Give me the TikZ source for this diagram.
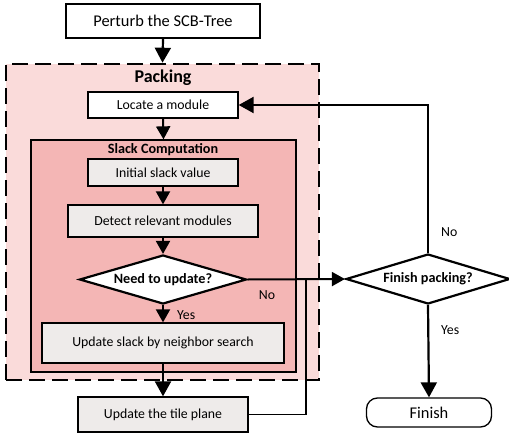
\documentclass[tikz,border=0pt]{standalone}
\usepackage{fontspec}
\setmainfont{Carlito}
\usetikzlibrary{shapes.geometric,arrows.meta}
\definecolor{packfill}{HTML}{FADBDA}
\definecolor{slackfill}{HTML}{F4B6B5}
\definecolor{greyfill}{HTML}{EEEBEA}
\tikzset{
  bigfont/.style={font=\fontsize{16.4}{19}\selectfont},
  midfont/.style={font=\fontsize{13.8}{16}\selectfont},
  boldfont/.style={font=\bfseries\fontsize{14.2}{16}\selectfont},
  stepbox/.style={draw, line width=1.3pt, fill=greyfill, inner sep=0pt, midfont},
  whitebox/.style={draw, line width=1.3pt, fill=white, inner sep=0pt, midfont},
  decision/.style={diamond, draw, line width=2.2pt, fill=white, inner sep=0pt, boldfont, shape aspect=3.4},
  arr/.style={line width=2pt, -{Triangle[length=13pt,width=14pt]}},
  bigarr/.style={line width=2.2pt, -{Triangle[length=15pt,width=16pt]}},
  lbl/.style={midfont, inner sep=0pt}
}
\begin{document}
\begin{tikzpicture}[x=1pt,y=-1pt]
\useasboundingbox (0,0) rectangle (509,434);
% containers
\node[draw, dashed, dash pattern=on 16pt off 7pt, line width=2.6pt, fill=packfill,
      minimum width=313pt, minimum height=316pt, inner sep=0pt] (packing) at (162.5,222) {};
\node[font=\bfseries\fontsize{18}{20}\selectfont, inner sep=0pt] (packlbl) at (163,78) {Packing};
\node[whitebox, minimum width=150pt, minimum height=26pt] (locate) at (163,105) {Locate a module};
\node[draw, line width=1.3pt, fill=slackfill, minimum width=265pt, minimum height=232pt, inner sep=0pt] (slack) at (163.5,256) {};
\node[boldfont, inner sep=0pt] (slacklbl) at (163,149.5) {Slack Computation};
% nodes
\node[draw, line width=2.2pt, fill=white, minimum width=194pt, minimum height=34pt, inner sep=0pt, bigfont] (perturb) at (163,21) {Perturb the SCB-Tree};
\node[stepbox, minimum width=150pt, minimum height=27pt] (init) at (163,172.5) {Initial slack value};
\node[stepbox, minimum width=190pt, minimum height=32pt] (detect) at (163,221) {Detect relevant modules};
\node[decision, minimum width=167pt, minimum height=49pt] (need) at (163,279.5) {Need to update?};
\node[stepbox, minimum width=242pt, minimum height=40pt] (upd) at (163,343) {Update slack by neighbor search};
\node[stepbox, minimum width=170pt, minimum height=35pt] (tile) at (163,414.5) {Update the tile plane};
\node[decision, minimum width=164pt, minimum height=50pt] (fp) at (428,279) {Finish packing?};
\node[draw, line width=1.3pt, fill=white, rounded corners=11pt, minimum width=125pt, minimum height=29pt, inner sep=0pt, bigfont] (finish) at (429,412.5) {Finish};
\coordinate (join) at (306,279);
% connectors
\draw[bigarr] (perturb.south) -- (packing.north);
\draw[arr] (locate.south) -- (slack.north);
\draw[arr] (init.south) -- (detect.north);
\draw[arr] (detect.south) -- (need.north);
\draw[arr] (need.south) -- (upd.north);
\draw[bigarr] (upd.south) -- (tile.north);
\draw[arr] (need.east) -- (fp.west);
\draw[line width=1.3pt] (tile.east) -| (join);
\draw[bigarr] (fp.north) |- (locate.east);
\draw[bigarr] (fp.south) -- (finish.north);
% labels
\node[lbl, anchor=west] (yes1) at (177,315) {Yes};
\node[lbl] (no1) at (267,295) {No};
\node[lbl, anchor=west] (no2) at (441,232) {No};
\node[lbl, anchor=west] (yes2) at (441,330) {Yes};
\end{tikzpicture}
\end{document}
